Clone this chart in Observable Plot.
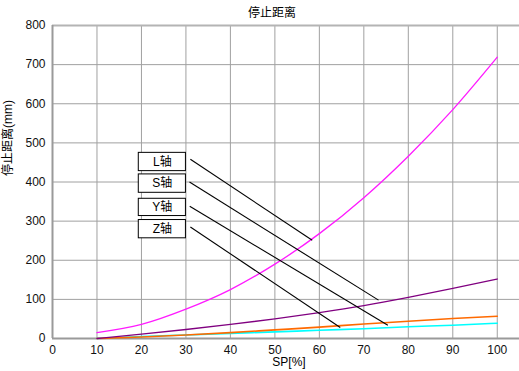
<!DOCTYPE html>
<html>
<head>
<meta charset="utf-8">
<script src="https://cdn.jsdelivr.net/npm/d3@7"></script>
<script src="https://cdn.jsdelivr.net/npm/@observablehq/plot@0.6"></script>
<style>
  html, body { margin: 0; padding: 0; background: #fff; }
  #chart svg { display: block; }
</style>
</head>
<body>
<div id="chart"></div>
<script>
// ---- data ----
const sp = [10, 20, 30, 40, 50, 60, 70, 80, 90, 100];
const lAxis = [15, 36, 75, 125, 190, 268, 360, 466, 585, 719];
const sAxis = [0, 11, 23, 36, 50, 66, 84, 105, 128, 152];
const yAxis = [0, 4, 9, 15, 22, 29, 37, 44, 51, 57];
const zAxis = [0, 5, 9, 13, 17, 21, 25, 30, 34, 39];

const seriesNames = ["L轴", "S轴", "Y轴", "Z轴"];
const seriesColors = ["#ff1aff", "#800080", "#ff6a00", "#00ffff"];

const xTicks = [0, 10, 20, 30, 40, 50, 60, 70, 80, 90, 100];
const yTicks = [0, 100, 200, 300, 400, 500, 600, 700, 800];

const titleText = "停止距离";
const yLabel = "停止距离(mm)";
const xLabel = "SP[%]";

// annotation boxes (data units): box extent and leader line from box to curve
const annotations = [
  {text: "L轴", x1: 19.4, x2: 30.0, y1: 427.8, y2: 474.5, lx1: 31.0, ly1: 458, lx2: 58.4, ly2: 251},
  {text: "S轴", x1: 19.4, x2: 30.0, y1: 372.4, y2: 419.4, lx1: 30.8, ly1: 400, lx2: 73.3, ly2: 98},
  {text: "Y轴", x1: 19.4, x2: 30.0, y1: 313.0, y2: 357.1, lx1: 30.85, ly1: 338, lx2: 75.4, ly2: 34},
  {text: "Z轴", x1: 19.4, x2: 30.0, y1: 256.1, y2: 302.8, lx1: 31.0, ly1: 285, lx2: 64.7, ly2: 28}
];

// ---- tidy table ----
const allSeries = [lAxis, sAxis, yAxis, zAxis];
const rows = [];
allSeries.forEach((vals, k) => {
  vals.forEach((v, i) => rows.push({name: seriesNames[k], sp: sp[i], value: v}));
});

const font = "'Liberation Sans', Arial, 'Noto Sans CJK SC', sans-serif";

const chart = Plot.plot({
  width: 519,
  height: 371,
  marginLeft: 52,
  marginRight: 0,
  marginTop: 25,
  marginBottom: 33,
  style: {fontFamily: font, fontSize: "12px", background: "#fff", color: "#111"},
  x: {domain: [0, 105]},
  y: {domain: [0, 800]},
  color: {domain: seriesNames, range: seriesColors},
  marks: [
    Plot.gridX(xTicks.filter(d => d > 0), {stroke: "#a0a0a0", strokeOpacity: 1}),
    Plot.gridY(yTicks.filter(d => d > 0 && d < 800), {stroke: "#a0a0a0", strokeOpacity: 1}),
    Plot.ruleY([800], {stroke: "#b4b4b4", strokeWidth: 2}),
    Plot.ruleX([0], {stroke: "#9a9a9a", strokeWidth: 2}),
    Plot.ruleY([0], {stroke: "#9a9a9a", strokeWidth: 2}),
    Plot.axisX(xTicks, {tickSize: 0, tickPadding: 7, label: null, fill: "#111"}),
    Plot.axisY(yTicks, {tickSize: 0, tickPadding: 7, label: null, fill: "#111"}),
    Plot.line(rows.filter(d => d.name === "Z轴"), {x: "sp", y: "value", stroke: "name", strokeWidth: 1.6, curve: "monotone-x"}),
    Plot.line(rows.filter(d => d.name === "Y轴"), {x: "sp", y: "value", stroke: "name", strokeWidth: 1.6, curve: "monotone-x"}),
    Plot.line(rows.filter(d => d.name === "S轴"), {x: "sp", y: "value", stroke: "name", strokeWidth: 1.3, curve: "monotone-x"}),
    Plot.line(rows.filter(d => d.name === "L轴"), {x: "sp", y: "value", stroke: "name", strokeWidth: 1.3, curve: "monotone-x"}),
    Plot.link(annotations, {x1: "lx1", y1: "ly1", x2: "lx2", y2: "ly2", stroke: "#000", strokeWidth: 1.1}),
    Plot.rect(annotations, {x1: "x1", x2: "x2", y1: "y1", y2: "y2", fill: "#fff", stroke: "#000", strokeWidth: 1}),
    Plot.text(annotations, {x: d => (d.x1 + d.x2) / 2, y: d => (d.y1 + d.y2) / 2, text: "text", fontSize: 12, fill: "#000"}),
    Plot.text([titleText], {frameAnchor: "top", dy: -17, dx: -14, fontSize: 12, fill: "#000"}),
    Plot.text([yLabel], {frameAnchor: "left", rotate: -90, dx: -44, dy: -6, fontSize: 12, fill: "#000"}),
    Plot.text([xLabel], {frameAnchor: "bottom", dy: 27.5, dx: 3, fontSize: 12, fill: "#000"})
  ]
});

document.getElementById("chart").appendChild(chart);
</script>
</body>
</html>
